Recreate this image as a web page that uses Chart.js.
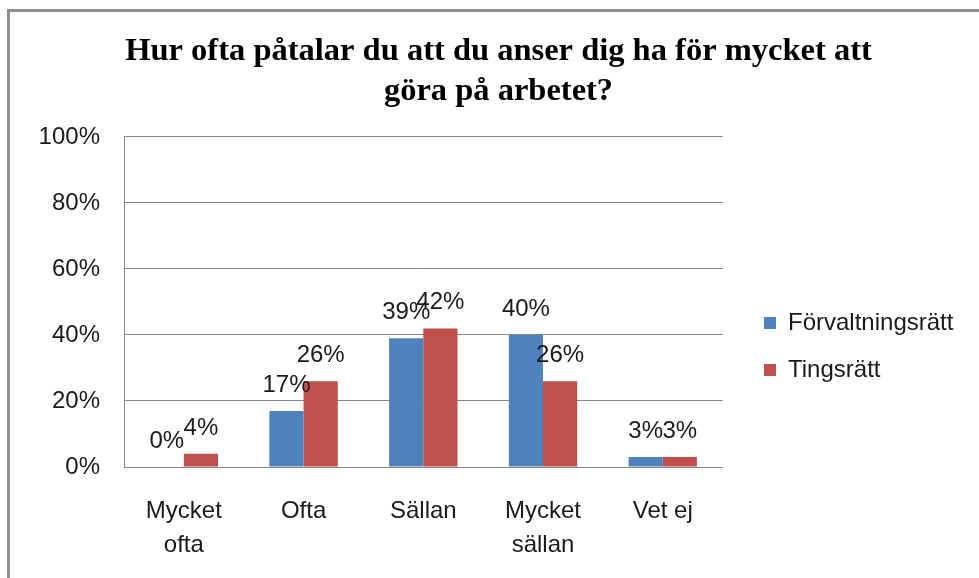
<!DOCTYPE html>
<html>
<head>
<meta charset="utf-8">
<script src="https://cdn.jsdelivr.net/npm/chart.js@4.4.1/dist/chart.umd.min.js"></script>
<style>
  html, body { margin: 0; padding: 0; background: #fff; }
  #wrap { position: relative; width: 979px; height: 578px; }
  #frame { position: absolute; left: 7px; top: 9px; right: 0; bottom: 0;
           border-left: 3px solid #8e8e8e; border-top: 3px solid #8e8e8e; pointer-events: none; }
  canvas { position: absolute; left: 0; top: 0; }
</style>
</head>
<body>
<div id="wrap">
  <canvas id="c" width="979" height="578"></canvas>
  <div id="frame"></div>
</div>
<script>
const titleLines = ["Hur ofta påtalar du att du anser dig ha för mycket att", "göra på arbetet?"];
const categories = [["Mycket", "ofta"], "Ofta", "Sällan", ["Mycket", "sällan"], "Vet ej"];
const seriesNames = ["Förvaltningsrätt", "Tingsrätt"];
const forvaltningsratt = [0, 17, 39, 40, 3];
const tingsratt = [4, 26, 42, 26, 3];
const yTicks = [0, 20, 40, 60, 80, 100];
const seriesColors = ["#4F81BD", "#C0504D"];

const FONT = "'Liberation Sans', Arial, sans-serif";
const TEXT = "#1a1a1a";
const GRID = "#868686";

const dataLabels = {
  id: 'dataLabels',
  afterDatasetsDraw(chart) {
    const ctx = chart.ctx;
    ctx.save();
    ctx.font = "24px " + FONT;
    ctx.fillStyle = TEXT;
    ctx.textAlign = 'center';
    ctx.textBaseline = 'alphabetic';
    chart.data.datasets.forEach((ds, di) => {
      const meta = chart.getDatasetMeta(di);
      meta.data.forEach((el, i) => {
        ctx.fillText(ds.data[i] + '%', el.x, el.y - 19);
      });
    });
    ctx.restore();
  }
};

const boxPlace = {
  id: 'boxPlace',
  afterLayout(chart) {
    const lg = chart.legend;
    if (lg) {
      const pad = lg.options.labels.padding;
      const fs = lg.options.labels.font.size;
      const w = lg.width;
      lg.left = 764 - pad;
      lg.right = lg.left + w;
      const colH = lg.columnSizes && lg.columnSizes[0] ? lg.columnSizes[0].height : 2 * (fs + pad);
      lg.top = 323 - fs / 2 - pad;
      lg.bottom = lg.top + colH + pad;
      lg.height = lg.bottom - lg.top;
    }
    const tb = chart.titleBlock;
    if (tb) {
      tb.left = 18;
      tb.right = 979;
      tb.width = tb.right - tb.left;
    }
  }
};

new Chart(document.getElementById('c'), {
  type: 'bar',
  data: {
    labels: categories,
    datasets: [
      { label: seriesNames[0], data: forvaltningsratt, backgroundColor: seriesColors[0] },
      { label: seriesNames[1], data: tingsratt, backgroundColor: seriesColors[1] }
    ]
  },
  options: {
    responsive: false,
    animation: false,
    devicePixelRatio: 1,
    layout: { padding: { left: 18, right: 34, top: 0, bottom: 0 } },
    datasets: { bar: { categoryPercentage: 0.571, barPercentage: 1.0 } },
    plugins: {
      tooltip: { enabled: false },
      title: {
        display: true,
        text: titleLines,
        color: '#000',
        font: { family: "'Liberation Serif', 'Times New Roman', serif", size: 32.5, weight: 'bold', lineHeight: 1.23 },
        padding: { top: 32, bottom: 25 }
      },
      legend: {
        position: 'right',
        labels: {
          color: TEXT,
          font: { family: FONT, size: 24 },
          boxWidth: 12,
          boxHeight: 12,
          padding: 23
        }
      }
    },
    scales: {
      x: {
        grid: { display: false, drawTicks: false },
        border: { display: true, color: GRID, width: 1 },
        ticks: { color: TEXT, font: { family: FONT, size: 24, lineHeight: 1.4 }, padding: 28, maxRotation: 0, autoSkip: false },
        afterFit(scale) { scale.height = 111; }
      },
      y: {
        min: 0, max: 100,
        afterBuildTicks(scale) { scale.ticks = yTicks.map(v => ({ value: v })); },
        grid: { color: GRID, drawTicks: false, lineWidth: 1 },
        border: { display: true, color: GRID, width: 1 },
        ticks: { color: TEXT, font: { family: FONT, size: 24 }, padding: 24, callback: v => v + '%' },
        afterFit(scale) { scale.width = 106; }
      }
    }
  },
  plugins: [dataLabels, boxPlace]
});
</script>
</body>
</html>
